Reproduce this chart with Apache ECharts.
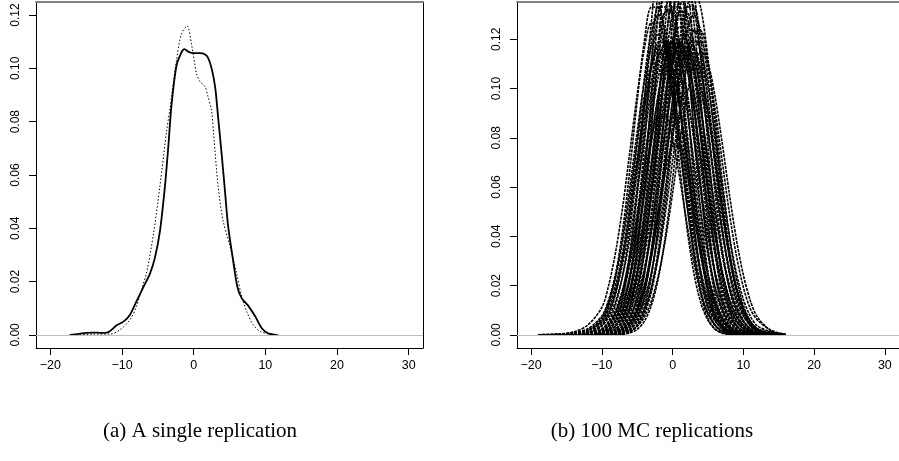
<!DOCTYPE html>
<html><head><meta charset="utf-8">
<script src="https://cdn.jsdelivr.net/npm/echarts@6/dist/echarts.min.js"></script>
<style>html,body{margin:0;padding:0;background:#fff}#c{width:899px;height:461px}</style>
</head><body><div id="c"></div>
<script>
// ---- data ----
const xTicks = [-20, -10, 0, 10, 20, 30];
const yTicks = [0, 0.02, 0.04, 0.06, 0.08, 0.10, 0.12];
const captions = ["(a) A single replication", "(b) 100 MC replications"];

// panel (a): estimated density (solid) and true density (dotted)
const solidX = [-17.3,-16,-15,-14,-13,-12.1,-11.7,-10.7,-9.8,-8.9,-8.0,-7.0,-6.1,-5.4,-4.7,-4.0,-3.5,-3.1,-2.4,-1.7,-1.3,-0.7,0,0.9,1.6,2.0,2.5,3.0,3.4,3.9,4.4,4.8,5.5,6.1,6.7,7.6,8.6,9.5,10.4,11.6];
const solidY = [0,0.0004,0.0008,0.0009,0.0008,0.0009,0.0014,0.0037,0.005,0.0075,0.0125,0.018,0.023,0.029,0.039,0.056,0.072,0.086,0.101,0.106,0.1072,0.1062,0.1057,0.1057,0.1052,0.104,0.1000,0.093,0.082,0.068,0.053,0.041,0.028,0.018,0.0138,0.011,0.0069,0.0025,0.0006,0];
const dottedX = [-15.9,-14,-11.7,-10.3,-8.9,-8.0,-7.3,-6.6,-5.6,-4.7,-3.8,-3.3,-2.4,-1.7,-0.9,-0.3,0.4,0.9,1.6,2.0,2.5,2.8,3.4,4.1,5.1,6.0,6.7,7.4,8.3,9.3,10.7,12.0];
const dottedY = [0,0.0003,0.0003,0.0019,0.0056,0.0106,0.017,0.023,0.038,0.056,0.076,0.085,0.103,0.113,0.1159,0.109,0.098,0.095,0.0931,0.0894,0.084,0.075,0.056,0.043,0.033,0.023,0.0144,0.0088,0.0038,0.0013,0.0003,0];

// panel (b): MC replications, evaluated on a common x grid
const mcX = [-19,-16,-14,-12,-10,-9,-8,-7,-6,-5,-4,-3,-2,-1,0,1,2,3,4,5,6,7,8,9,10,11,12,14,16];
const mcCurves = [
[.0001,.0004,.0012,.004,.0112,.0206,.0346,.0532,.0754,.0977,.1161,.1266,.1266,.1161,.0977,.0754,.0532,.0346,.0206,.0112,.0056,.0026,.0011,.0004,.0001,0,0,0,0],
[0,.0004,.001,.0025,.0077,.0146,.0257,.0414,.0611,.0827,.1026,.1169,.122,.1169,.1026,.0827,.0611,.0414,.0257,.0146,.0077,.0037,.0016,.0006,.0002,.0001,0,0,0],
[0,0,.0006,.002,.0053,.0105,.0193,.0324,.0499,.0707,.0916,.1088,.1187,.1187,.1088,.0916,.0707,.0499,.0324,.0193,.0105,.0053,.0024,.001,.0004,.0001,0,0,0],
[0,0,.0001,.0006,.0036,.0074,.0142,.0249,.04,.0591,.08,.0992,.113,.118,.113,.0992,.08,.0591,.04,.0249,.0142,.0074,.0036,.0016,.0006,.0002,.0001,0,0],
[0,0,0,.0004,.0024,.0053,.0105,.0193,.0324,.0499,.0707,.0916,.1088,.1187,.1187,.1088,.0916,.0707,.0499,.0324,.0193,.0105,.0053,.0024,.001,.0004,.0001,0,0],
[0,0,0,.0002,.0015,.0035,.0073,.014,.0247,.0397,.0586,.0793,.0984,.1121,.117,.1121,.0984,.0793,.0586,.0397,.0247,.014,.0073,.0035,.0015,.0006,.0002,0,0],
[0,0,0,.0001,.001,.0024,.0053,.0105,.0193,.0324,.0499,.0707,.0916,.1088,.1187,.1187,.1088,.0916,.0707,.0499,.0324,.0193,.0105,.0053,.0024,.001,.0004,0,0],
[0,0,0,.0001,.0006,.0016,.0036,.0074,.0142,.0249,.04,.0591,.08,.0992,.113,.118,.113,.0992,.08,.0591,.04,.0249,.0142,.0074,.0036,.0016,.0006,.0001,0],
[0,0,0,0,.0004,.001,.0024,.0053,.0105,.0193,.0324,.0499,.0707,.0916,.1088,.1187,.1187,.1088,.0916,.0707,.0499,.0324,.0193,.0105,.0053,.0024,.001,.0001,0],
[0,0,0,0,.0002,.0006,.0016,.0037,.0077,.0146,.0257,.0414,.0611,.0827,.1026,.1169,.122,.1169,.1026,.0827,.0611,.0414,.0257,.0146,.0077,.0037,.0016,.0002,0],
[0,0,0,0,.0002,.0004,.0011,.0025,.0055,.011,.0201,.0338,.052,.0736,.0954,.1134,.1236,.1236,.1134,.0954,.0736,.052,.0338,.0201,.011,.0055,.0025,.001,.0002],
[0,0,0,0,.0001,.0002,.0006,.0016,.0036,.0075,.0144,.0253,.0407,.0601,.0814,.1009,.115,.12,.115,.1009,.0814,.0601,.0407,.0253,.0144,.0075,.0036,.0012,.0001],
[0,0,0,0,0,.0001,.0004,.001,.0024,.0053,.0105,.0193,.0324,.0499,.0707,.0916,.1088,.1187,.1187,.1088,.0916,.0707,.0499,.0324,.0193,.0105,.006,.0018,.0002],
[0,0,0,.0005,.0037,.0085,.0176,.0324,.0534,.0789,.1041,.123,.13,.123,.1041,.0789,.0534,.0324,.0176,.0085,.0037,.0014,.0005,.0002,0,0,0,0,0],
[0,0,0,.0003,.0024,.0059,.0129,.0251,.0439,.0683,.0954,.1191,.1331,.1331,.1191,.0954,.0683,.0439,.0251,.0129,.0059,.0024,.0009,.0003,.0001,0,0,0,0],
[0,0,0,.0002,.0015,.0039,.0091,.0186,.0344,.0567,.0838,.1105,.1305,.138,.1305,.1105,.0838,.0567,.0344,.0186,.0091,.0039,.0015,.0005,.0002,0,0,0,0],
[0,0,0,.0001,.0009,.0024,.0058,.0127,.0247,.0432,.0673,.094,.1174,.1311,.1311,.1174,.094,.0673,.0432,.0247,.0127,.0058,.0024,.0009,.0003,.0001,0,0,0],
[0,0,0,0,.0005,.0016,.004,.0092,.0189,.0349,.0575,.085,.1121,.1324,.14,.1324,.1121,.085,.0575,.0349,.0189,.0092,.004,.0016,.0005,.0002,0,0,0],
[0,0,0,0,.0003,.0009,.0024,.0059,.0129,.0251,.0439,.0683,.0954,.1191,.1331,.1331,.1191,.0954,.0683,.0439,.0251,.0129,.0059,.0024,.0009,.0003,.0001,0,0],
[0,0,0,0,.0002,.0005,.0015,.0039,.0091,.0186,.0344,.0567,.0838,.1105,.1305,.138,.1305,.1105,.0838,.0567,.0344,.0186,.0091,.0039,.0015,.0005,.0002,0,0],
[0,0,0,0,.0001,.0003,.0009,.0024,.0058,.0127,.0247,.0432,.0673,.094,.1174,.1311,.1311,.1174,.094,.0673,.0432,.0247,.0127,.0058,.0024,.0009,.0003,0,0],
[0,0,0,0,0,.0002,.0005,.0016,.004,.0092,.0189,.0349,.0575,.085,.1121,.1324,.14,.1324,.1121,.085,.0575,.0349,.0189,.0092,.004,.0016,.0005,0,0],
[0,0,0,0,0,.0001,.0003,.0009,.0024,.0059,.0129,.0251,.0439,.0683,.0954,.1191,.1331,.1331,.1191,.0954,.0683,.0439,.0251,.0129,.0059,.0024,.0009,.0001,0],
[0,0,0,0,0,0,.0002,.0005,.0014,.0037,.0085,.0176,.0324,.0534,.0789,.1041,.123,.13,.123,.1041,.0789,.0534,.0324,.0176,.0085,.0037,.0014,.0006,0],
[0,0,0,0,.0004,.0013,.004,.0105,.0236,.0459,.0771,.1116,.1394,.15,.1394,.1116,.0771,.0459,.0236,.0105,.004,.0013,.0004,.0001,0,0,0,0,0],
[0,0,0,0,.0002,.0007,.0024,.0068,.0166,.0347,.0626,.0977,.1313,.1522,.1522,.1313,.0977,.0626,.0347,.0166,.0068,.0024,.0007,.0002,0,0,0,0,0],
[0,0,0,0,.0001,.0004,.0014,.0043,.0112,.0251,.049,.0822,.119,.1486,.16,.1486,.119,.0822,.049,.0251,.0112,.0043,.0014,.0004,.0001,0,0,0,0],
[0,0,0,0,0,.0002,.0007,.0023,.0066,.0161,.0336,.0606,.0945,.1271,.1473,.1473,.1271,.0945,.0606,.0336,.0161,.0066,.0023,.0007,.0002,0,0,0,0],
[0,0,0,0,0,.0001,.0004,.0014,.0041,.0108,.0243,.0474,.0797,.1153,.144,.155,.144,.1153,.0797,.0474,.0243,.0108,.0041,.0014,.0004,.0001,0,0,0],
[0,0,0,0,0,0,.0002,.0007,.0023,.0066,.0161,.0336,.0606,.0945,.1271,.1473,.1473,.1271,.0945,.0606,.0336,.0161,.0066,.0023,.0007,.0002,0,0,0],
[0,0,0,.0002,.0016,.004,.0086,.0167,.0293,.0455,.0636,.0794,.0887,.0887,.0794,.0636,.0455,.0293,.0167,.0086,.004,.0016,.0006,.0002,0,0,0,0,0],
[0,0,0,0,0,.0001,.0004,.0012,.0034,.0083,.0175,.0315,.0491,.0661,.0766,.0766,.0661,.0491,.0315,.0175,.0083,.0034,.0012,.0004,.0001,0,0,0,0],
[0,.0002,.0006,.0018,.0062,.0118,.0210,.0345,.0520,.0720,.0920,.1080,.1170,.1170,.1080,.0920,.0720,.0520,.0345,.0210,.0118,.0062,.0030,.0012,.0005,.0002,0,0,0],
[0,0,.0002,.0009,.0045,.0093,.0175,.0300,.0470,.0670,.0870,.1035,.1135,.1150,.1080,.0935,.0745,.0550,.0375,.0235,.0135,.0070,.0034,.0015,.0006,.0002,.0001,0,0],
[0,0,0,.0003,.0020,.0045,.0095,.0180,.0310,.0480,.0680,.0880,.1050,.1160,.1190,.1130,.0990,.0800,.0595,.0405,.0255,.0145,.0076,.0036,.0015,.0006,.0002,0,0],
[0,0,0,.0001,.0010,.0026,.0060,.0125,.0230,.0380,.0570,.0780,.0975,.1120,.1190,.1175,.1080,.0920,.0725,.0525,.0350,.0215,.0120,.0062,.0029,.0012,.0005,.0001,0],
[0,0,0,0,.0006,.0016,.0040,.0088,.0172,.0300,.0472,.0675,.0880,.1055,.1165,.1190,.1125,.0985,.0795,.0590,.0405,.0255,.0148,.0078,.0038,.0017,.0007,.0001,0],
[0,0,0,0,.0003,.0009,.0024,.0056,.0118,.0220,.0370,.0560,.0770,.0965,.1110,.1180,.1165,.1070,.0910,.0715,.0515,.0340,.0205,.0113,.0056,.0025,.0010,.0002,0],
[0,0,0,0,.0001,.0004,.0012,.0032,.0075,.0150,.0270,.0435,.0635,.0840,.1015,.1130,.1170,.1120,.0995,.0815,.0615,.0425,.0270,.0155,.0082,.0039,.0017,.0003,0],
[0,0,0,0,0,.0002,.0006,.0018,.0045,.0098,.0190,.0325,.0505,.0710,.0905,.1060,.1145,.1145,.1060,.0905,.0710,.0505,.0325,.0190,.0098,.0045,.0020,.0005,.0001],
[0,0,0,0,0,0,.0001,.0003,.0008,.0023,.0055,.012,.0233,.0406,.0633,.0884,.1103,.1233,.1233,.1103,.0884,.0633,.0406,.0233,.012,.0055,.0023,.0003,0],
[0,0,0,0,0,.0001,.0002,.0006,.0015,.0035,.0072,.0138,.0243,.039,.0576,.078,.0967,.1102,.115,.1102,.0967,.078,.0576,.039,.0243,.0138,.0072,.0015,.0002],
[0,0,.0001,.0009,.0059,.0129,.0251,.0439,.0683,.0954,.1191,.1331,.1331,.1191,.0954,.0683,.0439,.0251,.0129,.0059,.0024,.0009,.0003,.0001,0,0,0,0,0],
[0,0,0,0,0,0,.0002,.0005,.0016,.004,.0092,.0189,.0349,.0575,.085,.1121,.1324,.14,.1324,.1121,.085,.0575,.0349,.0189,.0092,.004,.0016,.0002,0],
[0,0,0,0,0,0,.0001,.0004,.0013,.004,.0105,.0236,.0459,.0771,.1116,.1394,.15,.1394,.1116,.0771,.0459,.0236,.0105,.004,.0013,.0004,.0001,0,0],
[0,0,0,0,.0007,.0023,.0066,.0161,.0336,.0606,.0945,.1271,.1473,.1473,.1271,.0945,.0606,.0336,.0161,.0066,.0023,.0007,.0002,0,0,0,0,0,0],
[0,0,0,.0001,.0007,.0017,.0038,.0079,.015,.0264,.0424,.0626,.0848,.1051,.1198,.125,.1198,.1051,.0848,.0626,.0424,.0264,.015,.0079,.0038,.0017,.0007,.0001,0],
[0,0,0,0,.0001,.0004,.001,.0024,.0052,.0103,.019,.0319,.0491,.0695,.09,.107,.1167,.1167,.107,.09,.0695,.0491,.0319,.019,.0103,.0052,.0024,.0004,0],
[0,0,.0002,.0015,.0072,.0138,.0243,.039,.0576,.078,.0967,.1102,.115,.1102,.0967,.078,.0576,.039,.0243,.0138,.0072,.0035,.0015,.0006,.0002,.0001,0,0,0]
];

// ---- chart ----
const chart = echarts.init(document.getElementById('c'), null, {renderer: 'canvas'});
const FONT = '"Liberation Sans", Arial, Helvetica, sans-serif';
const fmtX = v => (v < 0 ? '\u2212' + Math.abs(v) : String(v));
const yRange = [[-0.0049, 0.1249], [-0.0053, 0.1351]];

const grids = [
  {left: 36, top: 2, width: 387, height: 346},
  {left: 517, top: 2, width: 387, height: 346}
];
const xAxes = [], yAxes = [];
for (let g = 0; g < 2; g++) {
  xAxes.push({
    type: 'value', gridIndex: g, position: 'bottom', min: -22, max: 32,
    axisLine: {show: true, onZero: false, lineStyle: {color: '#000', width: 1}},
    axisTick: {show: true, length: 7, customValues: xTicks, lineStyle: {color: '#000', width: 1}},
    axisLabel: {show: true, customValues: xTicks, formatter: fmtX, color: '#000', fontSize: 12.5, fontFamily: FONT, margin: 11},
    splitLine: {show: false}
  });
  xAxes.push({
    type: 'value', gridIndex: g, position: 'top', min: -22, max: 32,
    axisLine: {show: true, onZero: false, lineStyle: {color: '#808080', width: 2}},
    axisTick: {show: false}, axisLabel: {show: false}, splitLine: {show: false}
  });
  yAxes.push({
    type: 'value', gridIndex: g, position: 'left', min: yRange[g][0], max: yRange[g][1],
    axisLine: {show: true, onZero: false, lineStyle: {color: '#000', width: 1}},
    axisTick: {show: true, length: 7, customValues: yTicks, lineStyle: {color: '#000', width: 1}},
    axisLabel: {show: true, customValues: yTicks, rotate: 90, formatter: v => v.toFixed(2), color: '#000', fontSize: 12, fontFamily: FONT, margin: 14},
    splitLine: {show: false}
  });
  yAxes.push({
    type: 'value', gridIndex: g, position: 'right', min: yRange[g][0], max: yRange[g][1],
    axisLine: {show: true, onZero: false, lineStyle: {color: '#000', width: 1}},
    axisTick: {show: false}, axisLabel: {show: false}, splitLine: {show: false}
  });
}

const zeroLine = {
  silent: true, symbol: 'none', label: {show: false},
  lineStyle: {color: '#bebebe', type: 'solid', width: 1},
  data: [{yAxis: 0}]
};

const series = [];
series.push({
  type: 'line', xAxisIndex: 0, yAxisIndex: 0, showSymbol: false, smooth: 0.3,
  data: [], markLine: zeroLine, silent: true
});
series.push({
  type: 'line', xAxisIndex: 0, yAxisIndex: 0, showSymbol: false, smooth: 0.3, silent: true,
  data: dottedX.map((x, i) => [x, dottedY[i]]),
  lineStyle: {color: '#000', width: 1, type: [1.5, 2]}
});
series.push({
  type: 'line', xAxisIndex: 0, yAxisIndex: 0, showSymbol: false, smooth: 0.3, silent: true,
  data: solidX.map((x, i) => [x, solidY[i]]),
  lineStyle: {color: '#000', width: 1.8, type: 'solid'}
});
series.push({
  type: 'line', xAxisIndex: 2, yAxisIndex: 2, showSymbol: false, data: [],
  markLine: zeroLine, silent: true
});
mcCurves.forEach(c => {
  series.push({
    type: 'line', xAxisIndex: 2, yAxisIndex: 2, showSymbol: false, smooth: 0.3, silent: true,
    clip: true,
    data: mcX.map((x, i) => [x, c[i]]),
    lineStyle: {color: '#000', width: 1.6, type: [3, 1]}
  });
});

chart.setOption({
  animation: false,
  backgroundColor: '#fff',
  grid: grids,
  xAxis: xAxes,
  yAxis: yAxes,
  series: series,
  graphic: [
    {type: 'text', x: 200, y: 431, silent: true,
     style: {text: captions[0], font: '21px "Liberation Serif", "Times New Roman", serif', fill: '#000',
             align: 'center', verticalAlign: 'middle', textAlign: 'center', textVerticalAlign: 'middle'}},
    {type: 'text', x: 652, y: 431, silent: true,
     style: {text: captions[1], font: '21px "Liberation Serif", "Times New Roman", serif', fill: '#000',
             align: 'center', verticalAlign: 'middle', textAlign: 'center', textVerticalAlign: 'middle'}}
  ]
});
</script>
</body></html>
